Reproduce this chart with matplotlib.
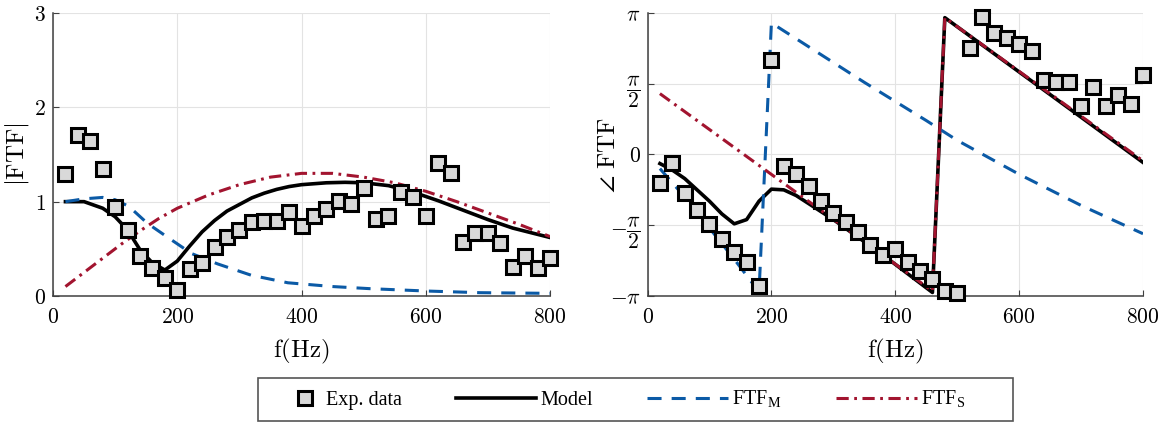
import numpy as np
import matplotlib
matplotlib.use("Agg")
import matplotlib.pyplot as plt
from matplotlib.legend_handler import HandlerLine2D
from matplotlib.lines import Line2D
from matplotlib.patches import Rectangle

plt.rcParams['mathtext.fontset'] = 'cm'

# measured flame transfer function, 20 Hz steps
f_exp = np.arange(20, 801, 20)
gain_exp = [1.29, 1.71, 1.64, 1.35, 0.94, 0.70, 0.42, 0.30, 0.19, 0.06,
            0.29, 0.35, 0.52, 0.62, 0.70, 0.78, 0.80, 0.79, 0.89, 0.74,
            0.85, 0.92, 1.01, 0.97, 1.15, 0.82, 0.85, 1.10, 1.05, 0.85,
            1.41, 1.30, 0.57, 0.67, 0.67, 0.56, 0.31, 0.42, 0.30, 0.40]
# phase in units of pi
phase_exp = [-0.20, -0.06, -0.27, -0.39, -0.49, -0.60, -0.69, -0.76, -0.93, 0.67,
             -0.08, -0.14, -0.22, -0.33, -0.41, -0.48, -0.55, -0.64, -0.71, -0.67,
             -0.76, -0.82, -0.88, -0.965, -0.976, 0.755, 0.97, 0.86, 0.82, 0.78,
             0.73, 0.525, 0.515, 0.51, 0.346, 0.48, 0.34, 0.42, 0.36, 0.56]

# model gain
f_mod = [20, 50, 80, 100, 120, 140, 160, 180, 200, 220, 240, 260, 280, 300,
         320, 340, 360, 380, 400, 440, 470, 500, 540, 580, 620, 660, 700, 740, 800]
gain_mod = [1.0, 1.0, 0.93, 0.84, 0.70, 0.49, 0.35, 0.275, 0.37, 0.53, 0.68, 0.80, 0.90, 0.97,
            1.04, 1.09, 1.13, 1.16, 1.18, 1.20, 1.205, 1.20, 1.17, 1.10, 1.01, 0.91, 0.81, 0.72, 0.62]

# mean-flow part FTF_M
f_M = [20, 50, 80, 100, 122, 152, 185, 223, 265, 319, 378, 450, 509, 599, 688, 800]
gain_M = [1.0, 1.03, 1.045, 1.02, 0.95, 0.77, 0.62, 0.45, 0.34, 0.22, 0.14, 0.10, 0.078, 0.053, 0.035, 0.028]

# swirl part FTF_S
f_S = [20, 50, 80, 110, 140, 170, 200, 250, 300, 350, 400, 450, 500, 550, 600, 650, 700, 750, 800]
gain_S = [0.10, 0.25, 0.40, 0.55, 0.69, 0.82, 0.93, 1.07, 1.18, 1.26, 1.30, 1.30, 1.26, 1.20,
          1.11, 1.00, 0.88, 0.76, 0.63]

# phases (units of pi), wrapped to [-pi, pi]
f_mod_ph = [20, 40, 60, 80, 100, 120, 140, 160, 180, 200, 220, 240, 300, 380, 460, 480, 800]
phase_mod = [-0.064, -0.11, -0.17, -0.25, -0.33, -0.42, -0.49, -0.46, -0.33, -0.245, -0.25, -0.29,
             -0.46, -0.71, -0.975, 0.967, -0.056]
f_M_ph = [20, 60, 100, 140, 180, 200, 250, 300, 350, 400, 450, 500, 550, 600, 650, 700, 750, 800]
phase_M = [-0.10, -0.30, -0.52, -0.74, -0.97, 0.93, 0.79, 0.65, 0.51, 0.375, 0.24, 0.10,
           -0.02, -0.14, -0.25, -0.36, -0.46, -0.56]
f_S_ph = [20, 460, 480, 800]
phase_S = [0.43, -0.965, 0.967, -0.045]

blue = '#0b5aa6'
red = '#a2142f'
gray_face = '#d9d9d9'
tick_fs = 15.5
label_fs = 18

fig = plt.figure(figsize=(11.68, 4.26), dpi=100)
ax1 = fig.add_axes([0.0454, 0.3052, 0.4255, 0.6643])
ax2 = fig.add_axes([0.5544, 0.3052, 0.4242, 0.6643])


def style_axes(ax):
    ax.grid(True, color='#e3e3e3', lw=0.8)
    ax.set_axisbelow(True)
    for s in ['top', 'right']:
        ax.spines[s].set_visible(False)
    for s in ['left', 'bottom']:
        ax.spines[s].set_color('#404040')
        ax.spines[s].set_linewidth(1.1)
    ax.tick_params(direction='in', length=4, width=0.8, color='#404040')
    ax.tick_params(axis='x', pad=8)
    ax.tick_params(axis='y', pad=5)
    ax.set_xlim(0, 800)
    ax.set_xticks([0, 200, 400, 600, 800], labels=['$0$', '$200$', '$400$', '$600$', '$800$'],
                  fontsize=tick_fs)
    ax.set_xlabel(r'$\mathrm{f(Hz)}$', fontsize=label_fs)
    ax.xaxis.set_label_coords(0.5, -0.145)


mk = dict(ls='none', marker='s', ms=9.5, mew=2.2, mec='black', mfc=gray_face, clip_on=False, zorder=6)
mod_kw = dict(color='black', lw=2.6, zorder=3)
M_kw = dict(color=blue, lw=2.2, ls=(0, (4.6, 3.3)), zorder=4)
S_kw = dict(color=red, lw=2.2, ls=(0, (4.0, 1.8, 0.9, 1.8)), zorder=5)

# gain
style_axes(ax1)
ax1.plot(f_mod, gain_mod, **mod_kw)
ax1.plot(f_M, gain_M, **M_kw)
ax1.plot(f_S, gain_S, **S_kw)
ax1.plot(f_exp, gain_exp, **mk)
ax1.set_ylim(0, 3)
ax1.set_yticks([0, 1, 2, 3], labels=['$0$', '$1$', '$2$', '$3$'], fontsize=tick_fs)
ax1.set_ylabel(r'$|\mathrm{FTF}|$', fontsize=label_fs)
ax1.yaxis.set_label_coords(-0.045, 0.5)

# phase
style_axes(ax2)
ax2.plot(f_mod_ph, phase_mod, **mod_kw)
ax2.plot(f_M_ph, phase_M, **M_kw)
ax2.plot(f_S_ph, phase_S, **S_kw)
ax2.plot(f_exp, phase_exp, **mk)
ax2.set_ylim(-1, 1)
ax2.set_yticks([-1, -0.5, 0, 0.5, 1],
               labels=[r'$-\pi$', r'$-\dfrac{\pi}{2}$', r'$0$', r'$\dfrac{\pi}{2}$', r'$\pi$'],
               fontsize=tick_fs)
ax2.set_ylabel(r'$\angle\ \mathrm{FTF}$', fontsize=label_fs)
ax2.yaxis.set_label_coords(-0.056, 0.5)


class MarkerRight(HandlerLine2D):
    # single marker sits close to its text instead of mid-handle
    def get_xdata(self, legend, xdescent, ydescent, width, height, fontsize):
        right = -xdescent + width
        return [right - 24, right], [right - 12]


h_exp = Line2D([], [], **{k: v for k, v in mk.items() if k not in ('clip_on', 'zorder')})
h_mod = Line2D([], [], color='black', lw=2.6)
h_M = Line2D([], [], color=blue, lw=2.2, ls=(0, (4.6, 3.3)))
h_S = Line2D([], [], color=red, lw=2.2, ls=(0, (4.0, 1.8, 0.9, 1.8)))

fig.legend([h_exp, h_mod, h_M, h_S],
           ['Exp. data', 'Model', r'FTF$_\mathregular{M}$', r'FTF$_\mathregular{S}$'],
           handler_map={h_exp: MarkerRight(numpoints=1)},
           loc='center left', bbox_to_anchor=(241 / 1168, 1 - 399.5 / 426),
           ncol=4, frameon=False, borderpad=0, borderaxespad=0, handlelength=4.0,
           handletextpad=0.2, columnspacing=2.7,
           prop={'family': 'Liberation Serif', 'size': 14.5})
fig.patches.append(Rectangle((258 / 1168, 1 - 421 / 426), 755 / 1168, 43 / 426,
                             transform=fig.transFigure, fill=False, ec='#555555', lw=1.2))

fig.savefig('out.png', dpi=100)
